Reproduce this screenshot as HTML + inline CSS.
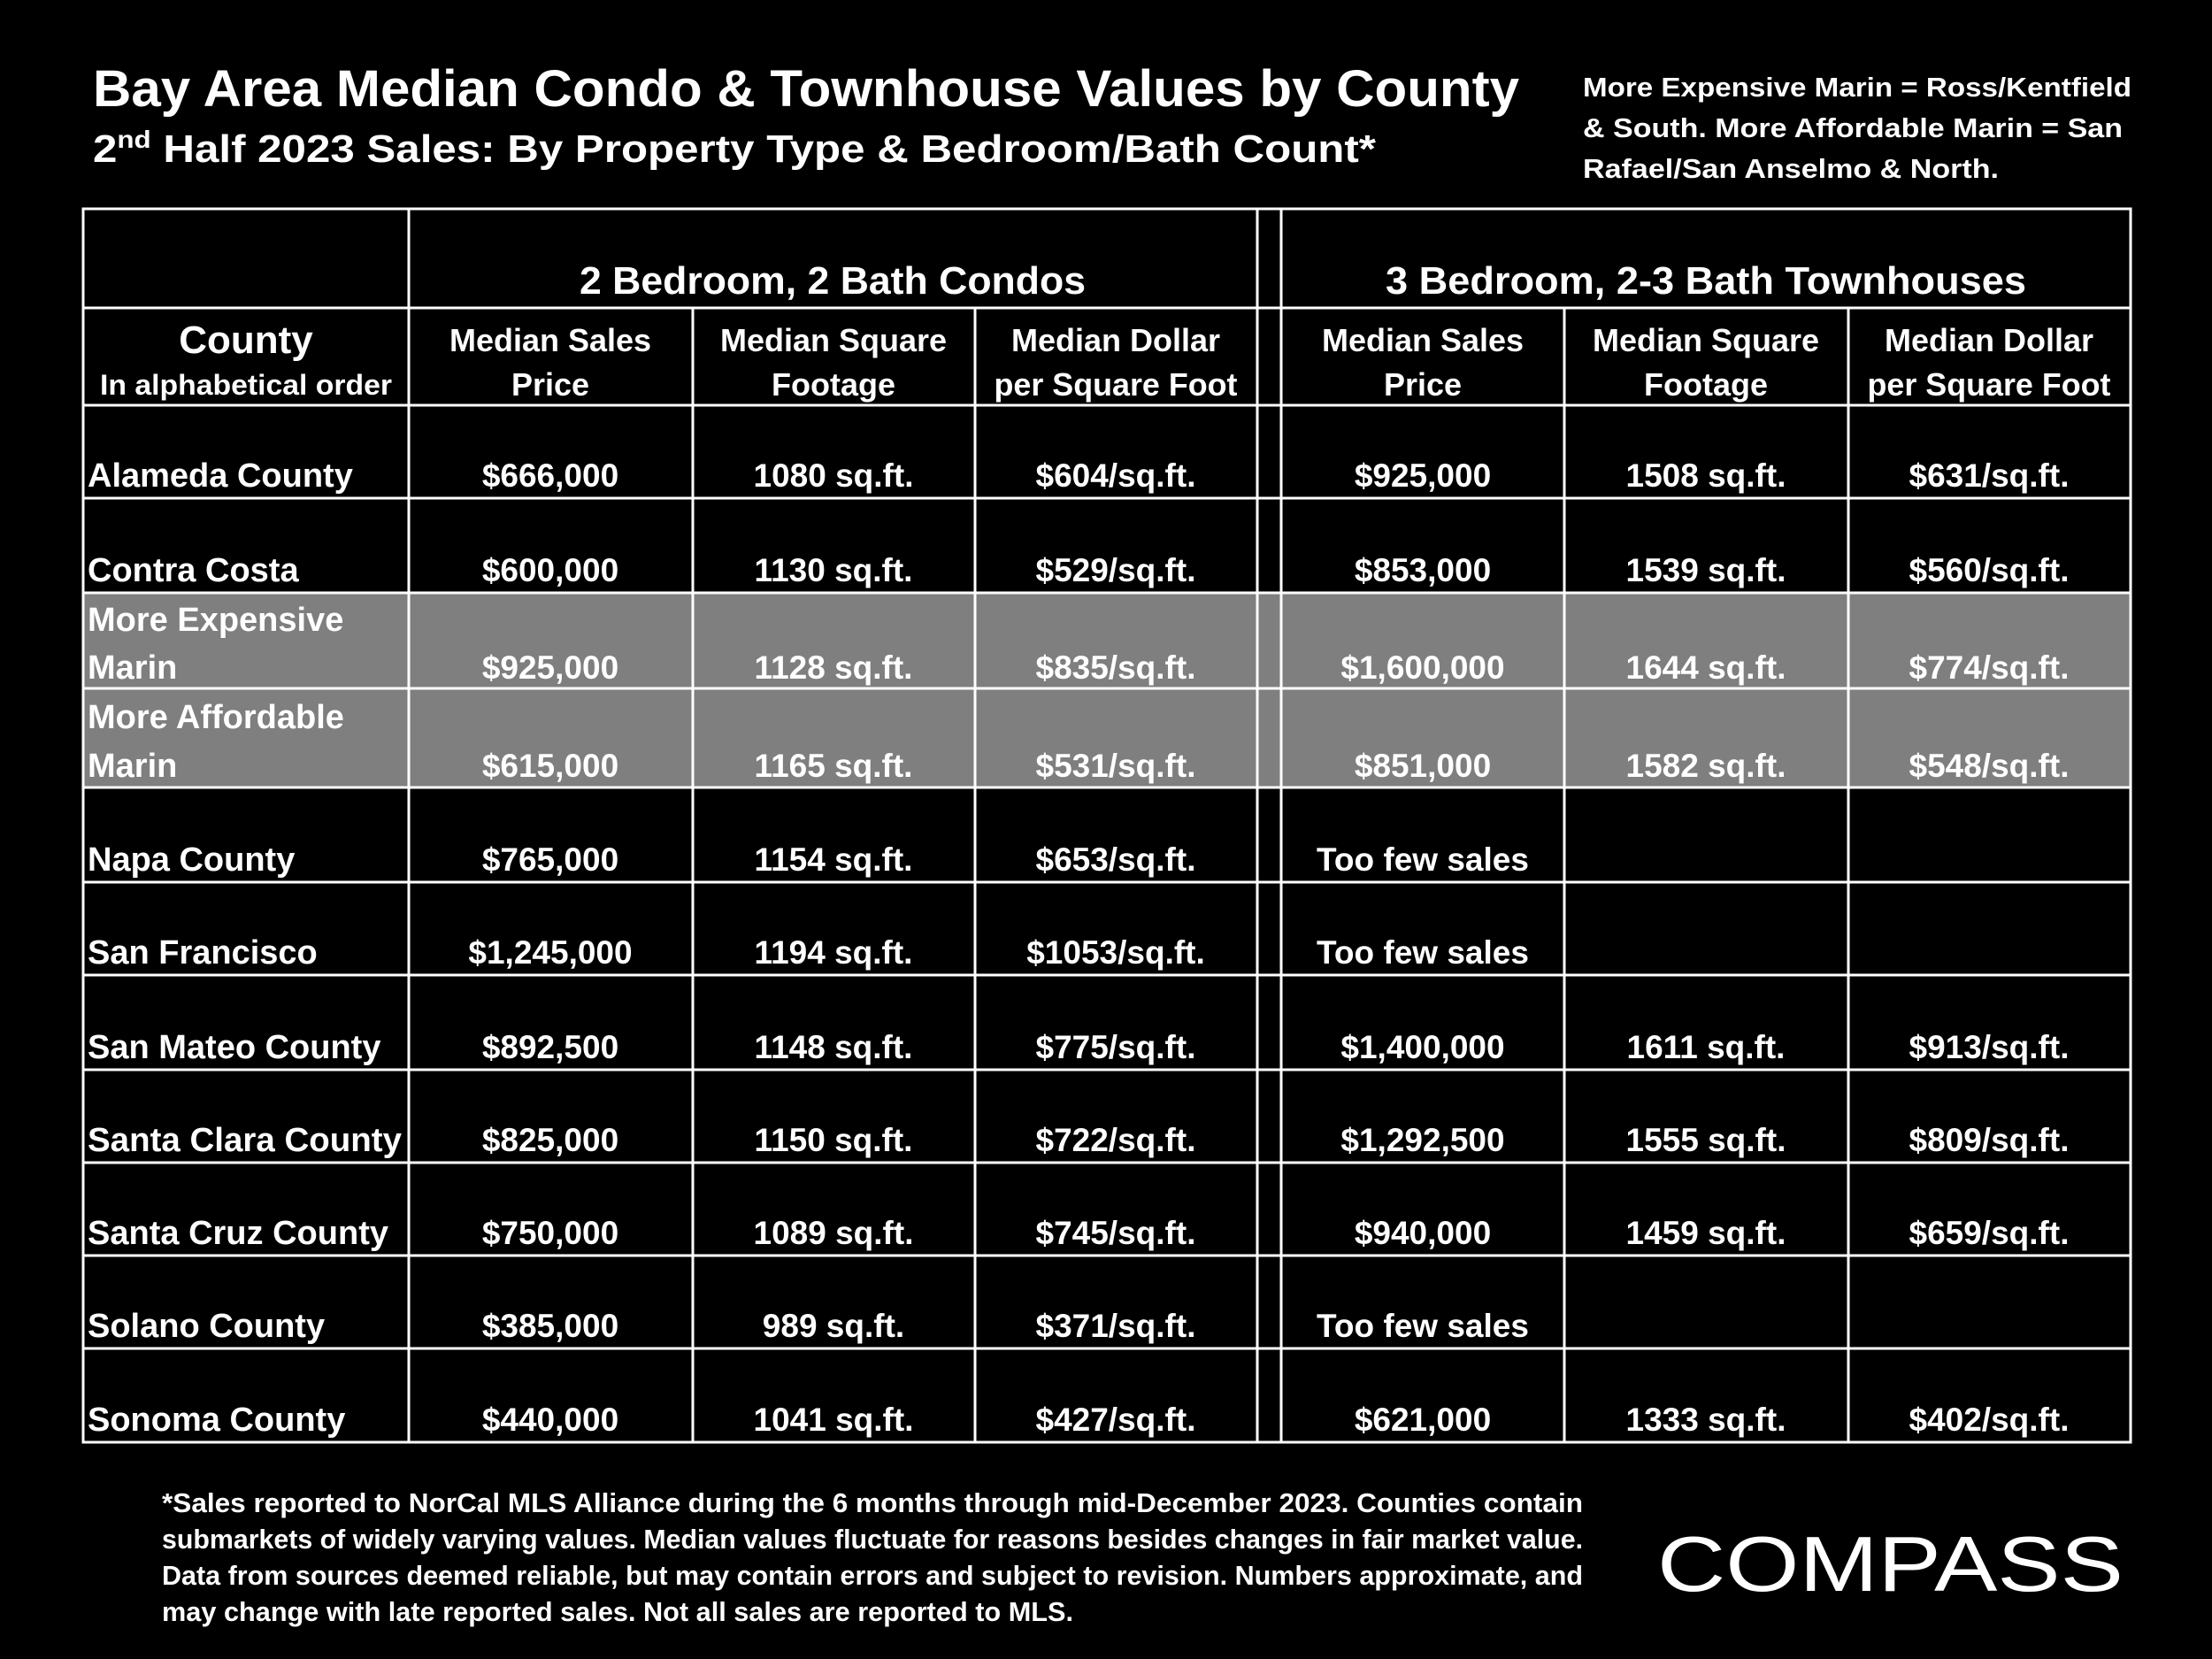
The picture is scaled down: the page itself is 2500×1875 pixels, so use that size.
<!DOCTYPE html>
<html><head><meta charset="utf-8"><style>
html,body{margin:0;padding:0;background:#000;}
svg{display:block}
text{font-family:"Liberation Sans",sans-serif;font-weight:bold;fill:#fff}
.c{text-anchor:middle;font-size:37px}
.l{font-size:38px}
.h{text-anchor:middle;font-size:36px}
.n{font-size:31px}
</style></head><body>
<svg width="2500" height="1875" viewBox="0 0 2500 1875" xmlns="http://www.w3.org/2000/svg">
<rect width="2500" height="1875" fill="#000"/>
<text x="105" y="120" font-size="58" textLength="1612" lengthAdjust="spacingAndGlyphs">Bay Area Median Condo &amp; Townhouse Values by County</text>
<text x="105" y="183" font-size="44" textLength="1450" lengthAdjust="spacingAndGlyphs">2<tspan font-size="28" dy="-16">nd</tspan><tspan dy="16"> Half 2023 Sales:  By Property Type &amp; Bedroom/Bath Count*</tspan></text>
<text class="n" x="1789" y="109" textLength="620" lengthAdjust="spacingAndGlyphs">More Expensive Marin = Ross/Kentfield</text>
<text class="n" x="1789" y="155" textLength="610" lengthAdjust="spacingAndGlyphs">&amp; South. More Affordable Marin = San</text>
<text class="n" x="1789" y="201" textLength="470" lengthAdjust="spacingAndGlyphs">Rafael/San Anselmo &amp; North.</text>

<!-- gray rows -->
<rect x="94" y="670" width="2314" height="220" fill="#7f7f7f"/>

<g stroke="#fff" stroke-width="3" fill="none">
<rect x="94" y="236" width="2314" height="1394"/>
<line x1="462" y1="236" x2="462" y2="1630"/>
<line x1="1421" y1="236" x2="1421" y2="1630"/>
<line x1="1448" y1="236" x2="1448" y2="1630"/>
<line x1="783" y1="348" x2="783" y2="1630"/>
<line x1="1102" y1="348" x2="1102" y2="1630"/>
<line x1="1768" y1="348" x2="1768" y2="1630"/>
<line x1="2089" y1="348" x2="2089" y2="1630"/>
<line x1="94" y1="348" x2="2408" y2="348"/>
<line x1="94" y1="458" x2="2408" y2="458"/>
<line x1="94" y1="563" x2="2408" y2="563"/>
<line x1="94" y1="670" x2="2408" y2="670"/>
<line x1="94" y1="778" x2="2408" y2="778"/>
<line x1="94" y1="890" x2="2408" y2="890"/>
<line x1="94" y1="997" x2="2408" y2="997"/>
<line x1="94" y1="1102" x2="2408" y2="1102"/>
<line x1="94" y1="1209" x2="2408" y2="1209"/>
<line x1="94" y1="1314" x2="2408" y2="1314"/>
<line x1="94" y1="1419" x2="2408" y2="1419"/>
<line x1="94" y1="1524" x2="2408" y2="1524"/>
</g>

<text x="941" y="332" text-anchor="middle" font-size="44" textLength="572" lengthAdjust="spacingAndGlyphs">2 Bedroom, 2 Bath Condos</text>
<text x="1928" y="332" text-anchor="middle" font-size="44" textLength="724" lengthAdjust="spacingAndGlyphs">3 Bedroom, 2-3 Bath Townhouses</text>

<text x="278" y="399" text-anchor="middle" font-size="44">County</text>
<text x="278" y="446" text-anchor="middle" font-size="32" textLength="330" lengthAdjust="spacingAndGlyphs">In alphabetical order</text>
<g class="hh">
<text class="h" x="622" y="397">Median Sales</text><text class="h" x="622" y="447">Price</text>
<text class="h" x="942" y="397">Median Square</text><text class="h" x="942" y="447">Footage</text>
<text class="h" x="1261" y="397">Median Dollar</text><text class="h" x="1261" y="447" textLength="275" lengthAdjust="spacingAndGlyphs">per Square Foot</text>
<text class="h" x="1608" y="397">Median Sales</text><text class="h" x="1608" y="447">Price</text>
<text class="h" x="1928" y="397">Median Square</text><text class="h" x="1928" y="447">Footage</text>
<text class="h" x="2248" y="397">Median Dollar</text><text class="h" x="2248" y="447" textLength="275" lengthAdjust="spacingAndGlyphs">per Square Foot</text>
</g>

<!-- rows -->
<text class="l" x="99" y="550">Alameda County</text>
<text class="c" x="622" y="550">$666,000</text><text class="c" x="942" y="550">1080 sq.ft.</text><text class="c" x="1261" y="550">$604/sq.ft.</text>
<text class="c" x="1608" y="550">$925,000</text><text class="c" x="1928" y="550">1508 sq.ft.</text><text class="c" x="2248" y="550">$631/sq.ft.</text>

<text class="l" x="99" y="657">Contra Costa</text>
<text class="c" x="622" y="657">$600,000</text><text class="c" x="942" y="657">1130 sq.ft.</text><text class="c" x="1261" y="657">$529/sq.ft.</text>
<text class="c" x="1608" y="657">$853,000</text><text class="c" x="1928" y="657">1539 sq.ft.</text><text class="c" x="2248" y="657">$560/sq.ft.</text>

<text class="l" x="99" y="713">More Expensive</text><text class="l" x="99" y="767">Marin</text>
<text class="c" x="622" y="767">$925,000</text><text class="c" x="942" y="767">1128 sq.ft.</text><text class="c" x="1261" y="767">$835/sq.ft.</text>
<text class="c" x="1608" y="767">$1,600,000</text><text class="c" x="1928" y="767">1644 sq.ft.</text><text class="c" x="2248" y="767">$774/sq.ft.</text>

<text class="l" x="99" y="823">More Affordable</text><text class="l" x="99" y="878">Marin</text>
<text class="c" x="622" y="878">$615,000</text><text class="c" x="942" y="878">1165 sq.ft.</text><text class="c" x="1261" y="878">$531/sq.ft.</text>
<text class="c" x="1608" y="878">$851,000</text><text class="c" x="1928" y="878">1582 sq.ft.</text><text class="c" x="2248" y="878">$548/sq.ft.</text>

<text class="l" x="99" y="984">Napa County</text>
<text class="c" x="622" y="984">$765,000</text><text class="c" x="942" y="984">1154 sq.ft.</text><text class="c" x="1261" y="984">$653/sq.ft.</text>
<text class="c" x="1608" y="984">Too few sales</text>

<text class="l" x="99" y="1089">San Francisco</text>
<text class="c" x="622" y="1089">$1,245,000</text><text class="c" x="942" y="1089">1194 sq.ft.</text><text class="c" x="1261" y="1089">$1053/sq.ft.</text>
<text class="c" x="1608" y="1089">Too few sales</text>

<text class="l" x="99" y="1196">San Mateo County</text>
<text class="c" x="622" y="1196">$892,500</text><text class="c" x="942" y="1196">1148 sq.ft.</text><text class="c" x="1261" y="1196">$775/sq.ft.</text>
<text class="c" x="1608" y="1196">$1,400,000</text><text class="c" x="1928" y="1196">1611 sq.ft.</text><text class="c" x="2248" y="1196">$913/sq.ft.</text>

<text class="l" x="99" y="1301" textLength="355" lengthAdjust="spacingAndGlyphs">Santa Clara County</text>
<text class="c" x="622" y="1301">$825,000</text><text class="c" x="942" y="1301">1150 sq.ft.</text><text class="c" x="1261" y="1301">$722/sq.ft.</text>
<text class="c" x="1608" y="1301">$1,292,500</text><text class="c" x="1928" y="1301">1555 sq.ft.</text><text class="c" x="2248" y="1301">$809/sq.ft.</text>

<text class="l" x="99" y="1406" textLength="340" lengthAdjust="spacingAndGlyphs">Santa Cruz County</text>
<text class="c" x="622" y="1406">$750,000</text><text class="c" x="942" y="1406">1089 sq.ft.</text><text class="c" x="1261" y="1406">$745/sq.ft.</text>
<text class="c" x="1608" y="1406">$940,000</text><text class="c" x="1928" y="1406">1459 sq.ft.</text><text class="c" x="2248" y="1406">$659/sq.ft.</text>

<text class="l" x="99" y="1511">Solano County</text>
<text class="c" x="622" y="1511">$385,000</text><text class="c" x="942" y="1511">989 sq.ft.</text><text class="c" x="1261" y="1511">$371/sq.ft.</text>
<text class="c" x="1608" y="1511">Too few sales</text>

<text class="l" x="99" y="1617">Sonoma County</text>
<text class="c" x="622" y="1617">$440,000</text><text class="c" x="942" y="1617">1041 sq.ft.</text><text class="c" x="1261" y="1617">$427/sq.ft.</text>
<text class="c" x="1608" y="1617">$621,000</text><text class="c" x="1928" y="1617">1333 sq.ft.</text><text class="c" x="2248" y="1617">$402/sq.ft.</text>

<!-- footnote -->
<text class="n" x="183" y="1709" textLength="1606" lengthAdjust="spacingAndGlyphs">*Sales reported to NorCal MLS Alliance during the 6 months through mid-December 2023. Counties contain</text>
<text class="n" x="183" y="1750" textLength="1606" lengthAdjust="spacingAndGlyphs">submarkets of widely varying values. Median values fluctuate for reasons besides changes in fair market value.</text>
<text class="n" x="183" y="1791" textLength="1606" lengthAdjust="spacingAndGlyphs">Data from sources deemed reliable, but may contain errors and subject to revision.  Numbers approximate, and</text>
<text class="n" x="183" y="1832" textLength="1030" lengthAdjust="spacingAndGlyphs">may change with late reported sales. Not all sales are reported to MLS.</text>

<text x="1873" y="1798" font-size="88" style="font-weight:normal" textLength="527" lengthAdjust="spacingAndGlyphs">COMPASS</text>
</svg>
</body></html>
